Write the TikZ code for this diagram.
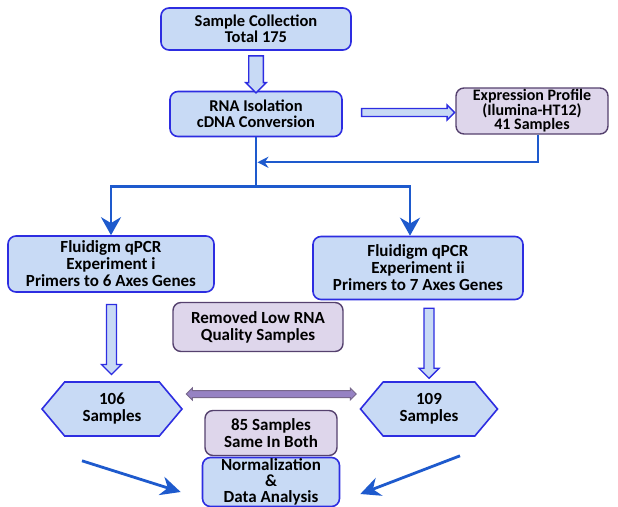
\documentclass[tikz,border=0pt]{standalone}
\usepackage{fontspec}
\setmainfont{Carlito}
\usetikzlibrary{
    shapes.symbols,
    shapes.arrows,
    arrows.meta,
    positioning,
    calc
}
\definecolor{boxblue}{RGB}{200,218,245}
\definecolor{lineblue}{RGB}{45,45,225}
\definecolor{arrowblue}{RGB}{30,90,205}
\definecolor{boxpurple}{RGB}{222,214,235}
\definecolor{linepurple}{RGB}{85,65,110}
\definecolor{barpurple}{RGB}{150,130,195}

\begin{document}
\begin{tikzpicture}[
    x=1pt, y=-1pt,
    node distance=85pt,
    font=\fontsize{17}{17}\selectfont\bfseries,
    tight/.style={font=\fontsize{16.5}{15.5}\selectfont\bfseries},
    stage/.style={rectangle, rounded corners=8pt, align=center, inner sep=1pt,
                  draw=lineblue, line width=1.6pt, fill=boxblue},
    note/.style={rectangle, rounded corners=8pt, align=center, inner sep=1pt,
                 draw=linepurple, line width=1.4pt, fill=boxpurple},
    hexbox/.style={signal, signal to=west and east, signal pointer angle=100,
                   align=center, inner sep=1pt, draw=lineblue, line width=1.6pt,
                   fill=boxblue, minimum width=140pt, minimum height=54pt},
    fatarrow/.style={single arrow, single arrow head extend=5pt, inner sep=4.3pt,
                     draw=lineblue, line width=1.4pt, fill=boxblue},
    linkarrow/.style={double arrow, double arrow head extend=2.5pt, inner sep=3pt,
                      draw=linepurple!80, line width=1pt, fill=barpurple},
    flow/.style={draw=arrowblue, line width=2.8pt, -{Stealth[length=18pt, width=20pt]}},
    branch/.style={draw=arrowblue, line width=2.8pt}
]
    \useasboundingbox (0,0) rectangle (618,506);

    % Nodes
    \node (sample) [stage, tight, minimum width=190pt, minimum height=42pt] at (256,29) {Sample Collection\\Total 175};
    \node (rnaiso) [stage, tight, minimum width=172pt, minimum height=45pt, below of=sample] {RNA Isolation\\cDNA Conversion};
    \node (exprof) [note, tight, font=\fontsize{16}{14.5}\selectfont\bfseries, minimum width=152pt, minimum height=46pt] at (532,111) {Expression Profile\\(Ilumina-HT12)\\41 Samples};
    \node (fluida) [stage, minimum width=206pt, minimum height=56pt] at (111,264) {Fluidigm qPCR\\Experiment i\\Primers to 6 Axes Genes};
    \node (fluidb) [stage, minimum width=210pt, minimum height=63pt] at (418,268) {Fluidigm qPCR\\Experiment ii\\Primers to 7 Axes Genes};
    \node (removed) [note, minimum width=170pt, minimum height=49pt] at (258,327) {Removed Low RNA\\Quality Samples};
    \node (s106) [hexbox] at (112,409) {106\\Samples};
    \node (s109) [hexbox, minimum width=137pt] at (429,409) {109\\Samples};
    \node (both) [note, minimum width=132pt, minimum height=45pt] at (271,433) {85 Samples\\Same In Both};
    \node (norm) [stage, font=\fontsize{17}{16}\selectfont\bfseries, minimum width=137pt, minimum height=49pt] at (271,482) {Normalization\\\&\\Data Analysis};

    % Hollow arrows
    \path (sample.south) -- node [fatarrow, single arrow head extend=3pt, inner sep=6.6pt,
        shape border rotate=270, minimum height=37pt] {} (rnaiso.north);
    \path (rnaiso.east) -- node [fatarrow, single arrow head extend=3.5pt, inner sep=3.3pt,
        minimum height=93pt, xshift=7pt] {} (exprof.west);
    \path (fluida.south) -- node [fatarrow, shape border rotate=270, minimum height=70pt] {} (s106.north);
    \path (fluidb.south -| s109.north) -- node [fatarrow, shape border rotate=270, minimum height=70pt] {} (s109.north);
    \path (s106.east) -- node [linkarrow, minimum height=170pt, yshift=15pt] {} (s109.west);

    % Arrows
    \draw [branch] (rnaiso.south) -- ++(0,49) coordinate (split);
    \draw [flow] (split) -| (fluida.north);
    \draw [flow] (split) -| ([xshift=-8pt]fluidb.north);
    \coordinate (merge) at ($(rnaiso.south)+(0,25)$);
    \draw [flow, line width=1.8pt, -{Stealth[length=11pt, width=11pt]}, shorten >=1.4pt]
        ([xshift=6pt]exprof.south) |- (merge);
    \draw [flow, -{Stealth[length=20pt, width=19pt]}] ([xshift=-30pt,yshift=-24pt]s106.south) -- ([xshift=-21pt,yshift=-10pt]norm.west);
    \draw [flow, -{Stealth[length=20pt, width=19pt]}] ([xshift=31pt,yshift=-19pt]s109.south) -- ([xshift=20pt,yshift=-12pt]norm.east);

\end{tikzpicture}
\end{document}
